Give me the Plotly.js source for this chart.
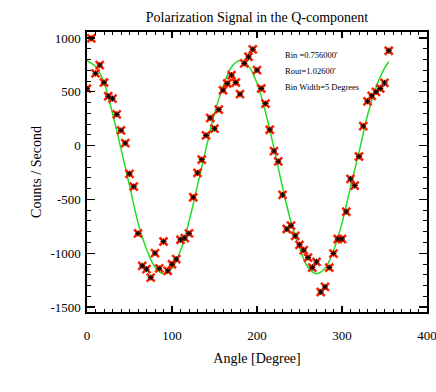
<!DOCTYPE html>
<html>
<head>
<meta charset="utf-8">
<script src="https://cdn.plot.ly/plotly-3.0.1.min.js"></script>
<style>html,body{margin:0;padding:0;background:#fff;}#chart{width:436px;height:392px;}</style>
</head>
<body>
<div id="chart"></div>
<script>
// Observed binned counts (5-degree bins)
const angles = [0,5,10,15,20,25,30,35,40,45,50,55,60,65,70,75,80,85,90,95,100,105,110,115,120,125,130,135,140,145,150,155,160,165,170,175,180,185,190,195,200,205,210,215,220,225,230,235,240,245,250,255,260,265,270,275,280,285,290,295,300,305,310,315,320,325,330,335,340,345,350,355];
const counts = [530,997,671,748,587,459,437,291,142,23,-262,-381,-816,-1117,-1148,-1226,-999,-1141,-891,-1164,-1102,-1055,-875,-859,-816,-480,-253,-130,95,257,158,335,515,577,655,587,478,764,826,895,701,531,391,148,-51,-146,-458,-775,-744,-838,-922,-971,-1040,-1133,-1080,-1360,-1313,-1133,-1003,-868,-868,-614,-309,-371,-101,182,412,462,499,531,583,882];

// Fitted curve
const fitAngles = [0,10,20,30,40,50,60,70,80,90,100,110,120,130,140,150,160,170,180,190,200,210,220,230,240,250,260,270,280,290,300,310,320,330,340,350,355];
const fitCounts = [790,735,585,300,-30,-370,-715,-960,-1130,-1190,-1140,-975,-705,-370,-30,300,545,730,790,740,580,310,-25,-385,-710,-950,-1130,-1190,-1140,-975,-720,-385,-60,280,540,720,780];

// Tick labels
const xTickVals = [0,100,200,300,400];
const yTickVals = [-1500,-1000,-500,0,500,1000];
const yTickText = ["-1500","-1000","-500","0","500","1000"];

const titleText = "Polarization Signal in the Q-component";
const xTitle = "Angle [Degree]";
const yTitle = "Counts / Second";
const notes = ["Rin =0.756000'", "Rout=1.02600'", "Bin Width=5 Degrees"];

const serif = "Liberation Serif, Times New Roman, serif";

const traces = [
  {x: fitAngles, y: fitCounts, mode: 'lines', line: {color: '#22dd22', width: 1.5, shape: 'spline'}, hoverinfo: 'skip'},
  {x: angles, y: counts, mode: 'markers', marker: {symbol: 'x-thin-open', size: 8, color: '#ff2200', line: {color: '#ff2200', width: 2.6}}},
  {x: angles, y: counts, mode: 'markers', marker: {symbol: 'asterisk-open', size: 5, color: '#000000', line: {color: '#000000', width: 1}}}
];

const axisCommon = {
  showline: true, linecolor: '#000', linewidth: 1.6, mirror: 'ticks',
  ticks: 'inside', tickcolor: '#000', tickwidth: 1.2,
  showgrid: false, zeroline: false,
  tickfont: {family: serif, size: 13, color: '#000'}
};

const layout = {
  width: 436, height: 392,
  margin: {l: 87, r: 9, t: 32, b: 80},
  paper_bgcolor: '#fff', plot_bgcolor: '#fff',
  showlegend: false,
  title: {text: titleText, font: {family: serif, size: 14, color: '#000'}, x: 0.5, xref: 'paper', xanchor: 'center', y: 1 - 17/392, yanchor: 'middle'},
  xaxis: Object.assign({}, axisCommon, {
    range: [0, 400], tickmode: 'array', tickvals: xTickVals, ticklen: 6, ticklabelstandoff: 11,
    ticklabeloverflow: 'allow',
    minor: {ticks: 'inside', ticklen: 3, dtick: 10, tickcolor: '#000', tickwidth: 1},
    title: {text: xTitle, font: {family: serif, size: 14, color: '#000'}, standoff: 11}
  }),
  yaxis: Object.assign({}, axisCommon, {
    range: [-1546, 1056], tickmode: 'array', tickvals: yTickVals, ticktext: yTickText, ticklen: 8, ticklabelstandoff: 2,
    minor: {ticks: 'inside', ticklen: 4, dtick: 100, tickcolor: '#000', tickwidth: 1},
    title: {text: yTitle, font: {family: serif, size: 14, color: '#000'}, standoff: 5}
  }),
  annotations: notes.map((t, i) => ({
    text: t, xref: 'paper', yref: 'paper', x: (283-87)/340, y: (312 - (55 + 16*i))/280,
    xanchor: 'left', yanchor: 'middle', showarrow: false,
    font: {family: serif, size: 8.5, color: '#000'}
  }))
};

Plotly.newPlot('chart', traces, layout, {staticPlot: true, displayModeBar: false});
</script>
</body>
</html>
